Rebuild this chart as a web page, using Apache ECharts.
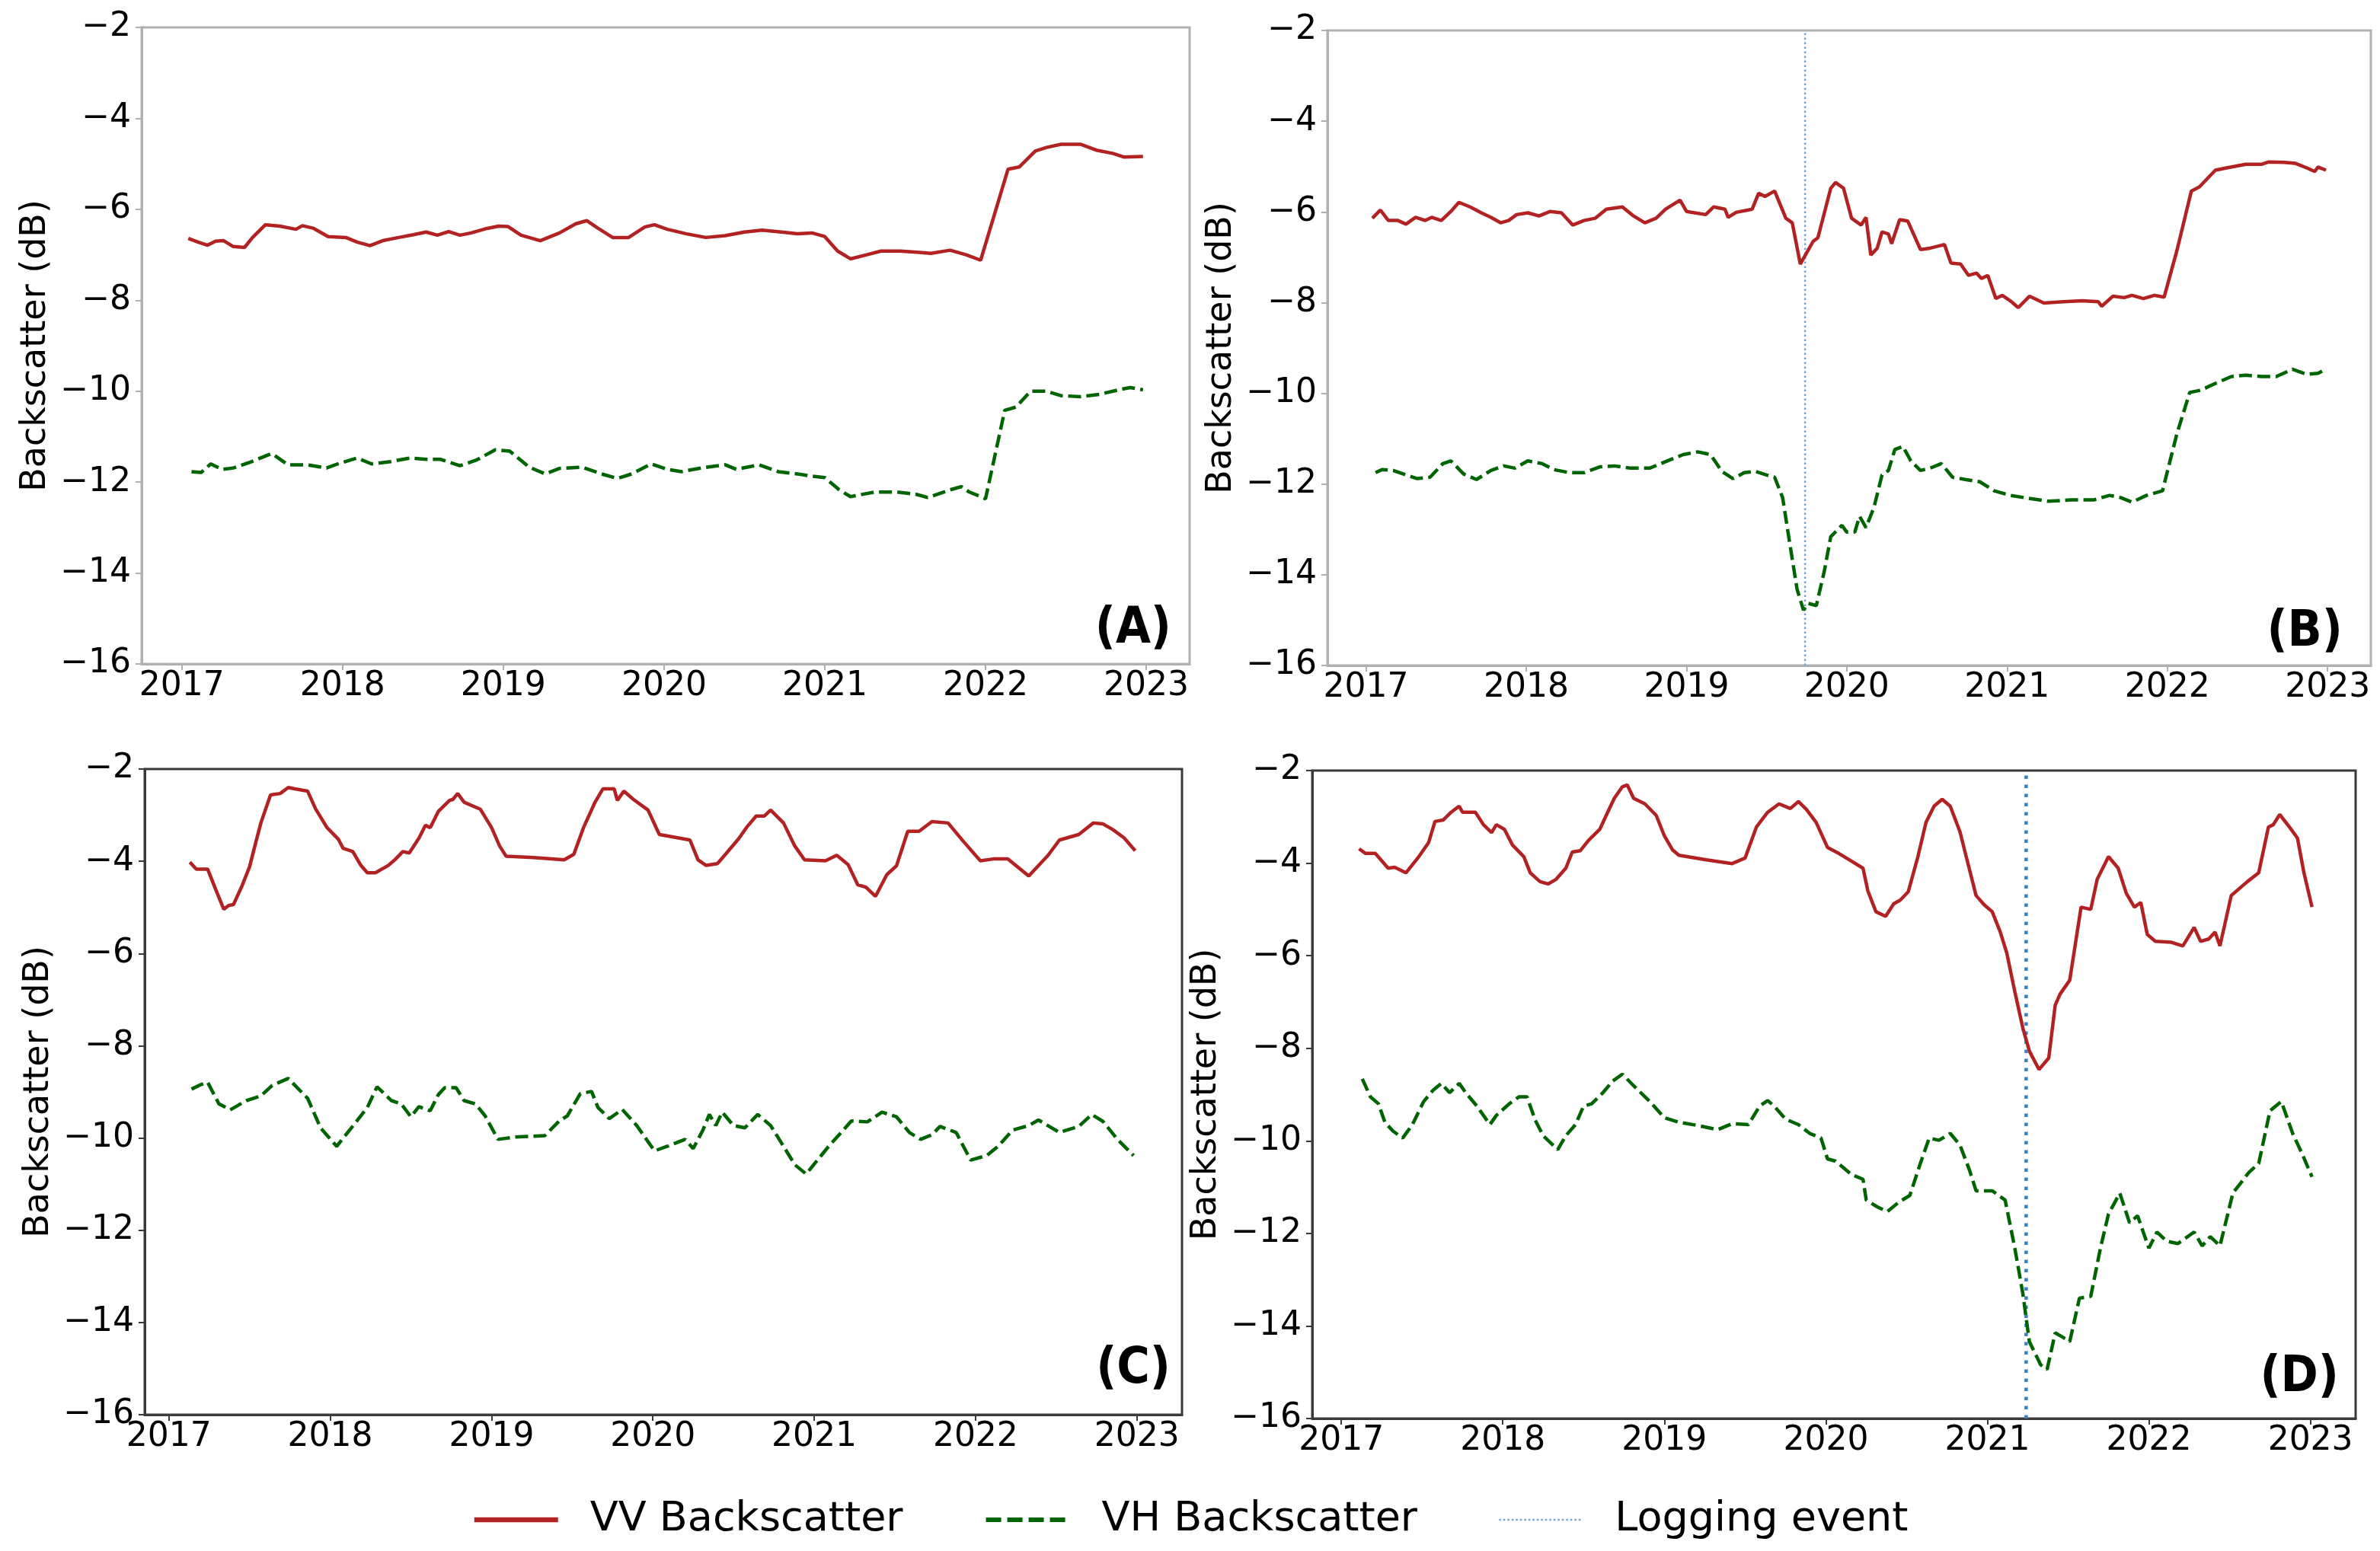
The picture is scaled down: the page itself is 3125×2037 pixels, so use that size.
<!DOCTYPE html>
<html><head><meta charset="utf-8">
<script src="https://cdn.jsdelivr.net/npm/echarts@6/dist/echarts.min.js"></script>
<style>html,body{margin:0;padding:0;background:#fff}#c{width:3125px;height:2037px}</style>
</head><body><div id="c"></div>
<script>
// ---------- data ----------
const yearTicks = [2017, 2018, 2019, 2020, 2021, 2022, 2023];
const yMin = -16, yMax = -2, yStep = 2;
const panelLabels = ['(A)', '(B)', '(C)', '(D)'];
const seriesNames = ['VV Backscatter', 'VH Backscatter', 'Logging event'];
const yAxisTitle = 'Backscatter (dB)';
const loggingB = 2019.74;
const loggingD = 2021.24;

const vvA = [[2017.04,-6.64],[2017.10,-6.72],[2017.16,-6.79],[2017.21,-6.70],[2017.26,-6.69],[2017.32,-6.82],[2017.39,-6.84],[2017.44,-6.62],[2017.52,-6.34],[2017.61,-6.37],[2017.71,-6.44],[2017.75,-6.36],[2017.82,-6.42],[2017.91,-6.60],[2018.02,-6.62],[2018.09,-6.72],[2018.17,-6.80],[2018.25,-6.69],[2018.35,-6.62],[2018.44,-6.56],[2018.52,-6.50],[2018.59,-6.57],[2018.66,-6.49],[2018.73,-6.57],[2018.80,-6.52],[2018.90,-6.42],[2018.97,-6.37],[2019.03,-6.38],[2019.11,-6.57],[2019.23,-6.69],[2019.35,-6.52],[2019.45,-6.32],[2019.52,-6.25],[2019.59,-6.42],[2019.68,-6.62],[2019.78,-6.62],[2019.88,-6.39],[2019.94,-6.34],[2020.02,-6.44],[2020.14,-6.54],[2020.26,-6.62],[2020.38,-6.58],[2020.50,-6.50],[2020.61,-6.46],[2020.73,-6.50],[2020.83,-6.54],[2020.92,-6.52],[2021.00,-6.60],[2021.08,-6.92],[2021.16,-7.09],[2021.26,-7.00],[2021.35,-6.92],[2021.47,-6.92],[2021.59,-6.95],[2021.66,-6.97],[2021.78,-6.90],[2021.88,-7.00],[2021.97,-7.12],[2022.14,-5.12],[2022.21,-5.07],[2022.31,-4.72],[2022.38,-4.64],[2022.47,-4.57],[2022.59,-4.57],[2022.69,-4.70],[2022.79,-4.77],[2022.86,-4.85],[2022.98,-4.84]];

const vhA = [[2017.06,-11.77],[2017.12,-11.79],[2017.18,-11.60],[2017.25,-11.72],[2017.32,-11.69],[2017.42,-11.57],[2017.56,-11.37],[2017.66,-11.62],[2017.78,-11.62],[2017.90,-11.69],[2017.97,-11.60],[2018.09,-11.47],[2018.18,-11.60],[2018.30,-11.55],[2018.42,-11.47],[2018.52,-11.50],[2018.61,-11.50],[2018.73,-11.64],[2018.83,-11.52],[2018.95,-11.29],[2019.04,-11.32],[2019.16,-11.67],[2019.26,-11.82],[2019.35,-11.70],[2019.49,-11.67],[2019.61,-11.82],[2019.71,-11.92],[2019.80,-11.82],[2019.92,-11.60],[2020.02,-11.72],[2020.11,-11.77],[2020.23,-11.69],[2020.38,-11.62],[2020.45,-11.72],[2020.59,-11.62],[2020.71,-11.77],[2020.83,-11.82],[2020.92,-11.87],[2021.00,-11.90],[2021.09,-12.17],[2021.16,-12.32],[2021.31,-12.22],[2021.45,-12.22],[2021.57,-12.27],[2021.64,-12.34],[2021.78,-12.17],[2021.85,-12.10],[2021.90,-12.22],[2021.97,-12.32],[2022.00,-12.37],[2022.12,-10.42],[2022.19,-10.35],[2022.28,-10.00],[2022.38,-10.00],[2022.47,-10.10],[2022.59,-10.12],[2022.71,-10.07],[2022.83,-9.97],[2022.90,-9.92],[2022.98,-9.97]];

const vvB = [[2017.04,-6.14],[2017.09,-5.96],[2017.14,-6.19],[2017.20,-6.19],[2017.25,-6.27],[2017.31,-6.12],[2017.37,-6.19],[2017.41,-6.12],[2017.47,-6.19],[2017.53,-5.99],[2017.58,-5.79],[2017.65,-5.89],[2017.72,-6.02],[2017.78,-6.12],[2017.84,-6.24],[2017.89,-6.19],[2017.94,-6.06],[2018.01,-6.02],[2018.08,-6.09],[2018.15,-5.99],[2018.22,-6.02],[2018.29,-6.29],[2018.36,-6.19],[2018.43,-6.14],[2018.50,-5.94],[2018.60,-5.89],[2018.67,-6.09],[2018.74,-6.24],[2018.81,-6.14],[2018.87,-5.94],[2018.96,-5.74],[2019.00,-5.99],[2019.12,-6.06],[2019.17,-5.89],[2019.24,-5.94],[2019.26,-6.12],[2019.31,-6.01],[2019.41,-5.94],[2019.45,-5.59],[2019.49,-5.66],[2019.55,-5.54],[2019.62,-6.14],[2019.66,-6.24],[2019.71,-7.15],[2019.79,-6.65],[2019.82,-6.57],[2019.90,-5.48],[2019.93,-5.35],[2019.98,-5.48],[2020.03,-6.14],[2020.09,-6.29],[2020.12,-6.12],[2020.15,-6.95],[2020.19,-6.80],[2020.22,-6.44],[2020.26,-6.49],[2020.28,-6.70],[2020.33,-6.17],[2020.38,-6.20],[2020.46,-6.83],[2020.52,-6.80],[2020.61,-6.72],[2020.65,-7.13],[2020.71,-7.15],[2020.76,-7.40],[2020.81,-7.35],[2020.84,-7.47],[2020.88,-7.40],[2020.93,-7.91],[2020.97,-7.84],[2021.02,-7.96],[2021.07,-8.11],[2021.14,-7.86],[2021.23,-8.01],[2021.35,-7.98],[2021.47,-7.96],[2021.57,-7.98],[2021.59,-8.08],[2021.66,-7.86],[2021.73,-7.89],[2021.78,-7.84],[2021.85,-7.91],[2021.92,-7.84],[2021.98,-7.88],[2022.06,-6.85],[2022.15,-5.54],[2022.20,-5.45],[2022.30,-5.08],[2022.37,-5.03],[2022.49,-4.95],[2022.59,-4.95],[2022.63,-4.90],[2022.73,-4.91],[2022.80,-4.93],[2022.87,-5.03],[2022.92,-5.11],[2022.94,-5.01],[2022.99,-5.08]];

const vhB = [[2017.06,-11.75],[2017.10,-11.68],[2017.17,-11.70],[2017.25,-11.80],[2017.32,-11.88],[2017.40,-11.85],[2017.48,-11.55],[2017.53,-11.49],[2017.61,-11.78],[2017.69,-11.90],[2017.78,-11.70],[2017.86,-11.60],[2017.93,-11.65],[2018.01,-11.49],[2018.10,-11.55],[2018.17,-11.68],[2018.27,-11.75],[2018.36,-11.75],[2018.46,-11.62],[2018.55,-11.60],[2018.65,-11.65],[2018.77,-11.65],[2018.86,-11.52],[2018.98,-11.35],[2019.07,-11.29],[2019.15,-11.35],[2019.22,-11.72],[2019.29,-11.88],[2019.36,-11.75],[2019.43,-11.72],[2019.50,-11.80],[2019.55,-11.85],[2019.60,-12.30],[2019.64,-13.21],[2019.69,-14.32],[2019.73,-14.78],[2019.76,-14.63],[2019.81,-14.68],[2019.86,-13.92],[2019.90,-13.16],[2019.97,-12.91],[2020.00,-13.06],[2020.05,-13.06],[2020.08,-12.71],[2020.12,-12.96],[2020.17,-12.51],[2020.22,-11.80],[2020.26,-11.70],[2020.30,-11.24],[2020.35,-11.17],[2020.40,-11.49],[2020.46,-11.70],[2020.52,-11.65],[2020.59,-11.55],[2020.66,-11.85],[2020.74,-11.90],[2020.83,-11.95],[2020.92,-12.15],[2021.02,-12.25],[2021.11,-12.30],[2021.26,-12.38],[2021.40,-12.35],[2021.54,-12.35],[2021.64,-12.25],[2021.71,-12.30],[2021.78,-12.40],[2021.87,-12.25],[2021.97,-12.15],[2022.06,-10.89],[2022.14,-9.98],[2022.21,-9.93],[2022.30,-9.78],[2022.40,-9.63],[2022.49,-9.60],[2022.59,-9.63],[2022.68,-9.63],[2022.78,-9.47],[2022.87,-9.58],[2022.94,-9.56],[2022.99,-9.47]];

const vvC = [[2017.13,-4.02],[2017.17,-4.17],[2017.24,-4.17],[2017.29,-4.61],[2017.34,-5.04],[2017.37,-4.96],[2017.40,-4.94],[2017.45,-4.56],[2017.50,-4.12],[2017.54,-3.57],[2017.57,-3.17],[2017.63,-2.56],[2017.69,-2.53],[2017.74,-2.40],[2017.78,-2.43],[2017.86,-2.48],[2017.91,-2.87],[2017.98,-3.27],[2018.05,-3.52],[2018.08,-3.72],[2018.14,-3.79],[2018.19,-4.09],[2018.23,-4.25],[2018.28,-4.25],[2018.36,-4.09],[2018.40,-3.97],[2018.45,-3.79],[2018.49,-3.82],[2018.55,-3.50],[2018.59,-3.22],[2018.62,-3.27],[2018.67,-2.92],[2018.74,-2.68],[2018.76,-2.66],[2018.79,-2.53],[2018.83,-2.72],[2018.93,-2.87],[2019.00,-3.27],[2019.05,-3.67],[2019.09,-3.89],[2019.26,-3.92],[2019.45,-3.97],[2019.51,-3.85],[2019.57,-3.27],[2019.64,-2.73],[2019.69,-2.43],[2019.76,-2.43],[2019.78,-2.68],[2019.82,-2.48],[2019.88,-2.66],[2019.97,-2.89],[2020.04,-3.42],[2020.12,-3.47],[2020.23,-3.54],[2020.28,-3.97],[2020.33,-4.09],[2020.40,-4.05],[2020.45,-3.85],[2020.53,-3.52],[2020.58,-3.27],[2020.64,-3.02],[2020.69,-3.02],[2020.73,-2.89],[2020.81,-3.17],[2020.88,-3.67],[2020.94,-3.97],[2021.07,-3.99],[2021.14,-3.87],[2021.21,-4.07],[2021.27,-4.51],[2021.32,-4.56],[2021.38,-4.76],[2021.45,-4.29],[2021.51,-4.10],[2021.58,-3.35],[2021.65,-3.35],[2021.73,-3.14],[2021.83,-3.17],[2021.92,-3.55],[2022.03,-3.99],[2022.11,-3.95],[2022.20,-3.95],[2022.33,-4.32],[2022.45,-3.87],[2022.52,-3.54],[2022.64,-3.42],[2022.73,-3.17],[2022.79,-3.19],[2022.85,-3.31],[2022.92,-3.49],[2022.99,-3.77]];

const vhC = [[2017.14,-8.94],[2017.20,-8.84],[2017.24,-8.79],[2017.31,-9.26],[2017.38,-9.39],[2017.48,-9.19],[2017.57,-9.09],[2017.64,-8.86],[2017.74,-8.71],[2017.86,-9.14],[2017.94,-9.78],[2018.04,-10.18],[2018.12,-9.83],[2018.23,-9.34],[2018.29,-8.89],[2018.38,-9.19],[2018.44,-9.26],[2018.50,-9.54],[2018.55,-9.32],[2018.62,-9.41],[2018.67,-9.06],[2018.71,-8.91],[2018.78,-8.91],[2018.83,-9.19],[2018.90,-9.26],[2018.96,-9.52],[2019.04,-10.03],[2019.14,-9.98],[2019.33,-9.95],[2019.42,-9.63],[2019.47,-9.52],[2019.55,-9.04],[2019.62,-8.99],[2019.66,-9.34],[2019.73,-9.58],[2019.81,-9.38],[2019.90,-9.73],[2020.01,-10.28],[2020.09,-10.18],[2020.20,-10.03],[2020.25,-10.23],[2020.31,-9.83],[2020.35,-9.49],[2020.39,-9.73],[2020.43,-9.44],[2020.50,-9.73],[2020.57,-9.78],[2020.65,-9.49],[2020.73,-9.73],[2020.81,-10.18],[2020.88,-10.58],[2020.95,-10.78],[2021.02,-10.48],[2021.09,-10.18],[2021.18,-9.83],[2021.23,-9.63],[2021.33,-9.65],[2021.42,-9.44],[2021.51,-9.54],[2021.59,-9.88],[2021.66,-10.03],[2021.73,-9.93],[2021.78,-9.75],[2021.88,-9.88],[2021.97,-10.48],[2022.07,-10.38],[2022.14,-10.18],[2022.23,-9.83],[2022.33,-9.73],[2022.39,-9.61],[2022.52,-9.88],[2022.64,-9.75],[2022.72,-9.49],[2022.79,-9.64],[2022.88,-10.03],[2022.98,-10.38]];

const vvD = [[2017.11,-3.69],[2017.15,-3.79],[2017.21,-3.79],[2017.24,-3.91],[2017.29,-4.11],[2017.33,-4.09],[2017.40,-4.21],[2017.48,-3.86],[2017.54,-3.56],[2017.58,-3.10],[2017.63,-3.07],[2017.68,-2.90],[2017.73,-2.77],[2017.75,-2.90],[2017.83,-2.90],[2017.88,-3.17],[2017.93,-3.34],[2017.96,-3.17],[2018.01,-3.27],[2018.06,-3.61],[2018.13,-3.86],[2018.17,-4.21],[2018.23,-4.40],[2018.28,-4.45],[2018.33,-4.35],[2018.39,-4.11],[2018.43,-3.76],[2018.48,-3.73],[2018.53,-3.51],[2018.60,-3.27],[2018.64,-2.97],[2018.69,-2.60],[2018.74,-2.35],[2018.77,-2.31],[2018.81,-2.60],[2018.88,-2.72],[2018.95,-2.97],[2019.00,-3.41],[2019.05,-3.71],[2019.09,-3.83],[2019.26,-3.93],[2019.42,-4.01],[2019.50,-3.89],[2019.57,-3.22],[2019.64,-2.90],[2019.71,-2.72],[2019.78,-2.82],[2019.83,-2.67],[2019.88,-2.84],[2019.94,-3.12],[2020.01,-3.66],[2020.08,-3.79],[2020.16,-3.96],[2020.23,-4.11],[2020.26,-4.60],[2020.31,-5.05],[2020.37,-5.15],[2020.42,-4.88],[2020.46,-4.80],[2020.51,-4.62],[2020.57,-3.86],[2020.62,-3.12],[2020.67,-2.77],[2020.72,-2.62],[2020.77,-2.77],[2020.83,-3.32],[2020.88,-4.01],[2020.93,-4.70],[2020.98,-4.90],[2021.03,-5.05],[2021.08,-5.49],[2021.12,-5.94],[2021.17,-6.78],[2021.22,-7.57],[2021.26,-8.06],[2021.32,-8.46],[2021.38,-8.21],[2021.42,-7.07],[2021.45,-6.83],[2021.51,-6.53],[2021.58,-4.95],[2021.64,-5.00],[2021.68,-4.35],[2021.75,-3.86],[2021.81,-4.11],[2021.86,-4.65],[2021.91,-4.95],[2021.95,-4.85],[2021.99,-5.54],[2022.04,-5.69],[2022.14,-5.71],[2022.21,-5.79],[2022.28,-5.39],[2022.32,-5.69],[2022.37,-5.64],[2022.41,-5.49],[2022.44,-5.79],[2022.51,-4.70],[2022.61,-4.40],[2022.68,-4.21],[2022.74,-3.22],[2022.77,-3.17],[2022.81,-2.95],[2022.87,-3.22],[2022.92,-3.46],[2022.96,-4.21],[2023.01,-4.95]];

const vhD = [[2017.13,-8.66],[2017.18,-9.05],[2017.23,-9.20],[2017.27,-9.60],[2017.32,-9.79],[2017.38,-9.94],[2017.44,-9.65],[2017.51,-9.15],[2017.57,-8.90],[2017.62,-8.76],[2017.67,-8.96],[2017.73,-8.76],[2017.77,-8.96],[2017.84,-9.25],[2017.92,-9.65],[2017.96,-9.45],[2018.04,-9.20],[2018.10,-9.05],[2018.15,-9.05],[2018.20,-9.55],[2018.25,-9.89],[2018.34,-10.19],[2018.39,-9.89],[2018.45,-9.65],[2018.50,-9.25],[2018.55,-9.20],[2018.62,-8.96],[2018.68,-8.71],[2018.74,-8.56],[2018.81,-8.81],[2018.91,-9.15],[2019.00,-9.50],[2019.09,-9.60],[2019.21,-9.67],[2019.33,-9.76],[2019.42,-9.63],[2019.52,-9.65],[2019.59,-9.25],[2019.64,-9.13],[2019.68,-9.25],[2019.75,-9.53],[2019.83,-9.65],[2019.90,-9.84],[2019.97,-9.94],[2020.01,-10.39],[2020.06,-10.44],[2020.16,-10.73],[2020.23,-10.83],[2020.25,-11.28],[2020.32,-11.43],[2020.38,-11.53],[2020.45,-11.33],[2020.52,-11.18],[2020.58,-10.54],[2020.64,-9.94],[2020.70,-9.99],[2020.77,-9.84],[2020.83,-10.09],[2020.89,-10.64],[2020.93,-11.08],[2021.03,-11.08],[2021.11,-11.28],[2021.17,-12.32],[2021.22,-13.31],[2021.26,-14.34],[2021.33,-14.84],[2021.37,-14.94],[2021.42,-14.15],[2021.47,-14.25],[2021.51,-14.34],[2021.57,-13.40],[2021.64,-13.36],[2021.70,-12.32],[2021.75,-11.58],[2021.82,-11.13],[2021.88,-11.77],[2021.93,-11.62],[2022.00,-12.32],[2022.05,-11.97],[2022.11,-12.17],[2022.18,-12.22],[2022.28,-11.97],[2022.33,-12.27],[2022.38,-12.07],[2022.44,-12.27],[2022.52,-11.13],[2022.62,-10.68],[2022.68,-10.49],[2022.75,-9.35],[2022.82,-9.15],[2022.89,-9.84],[2022.95,-10.29],[2023.01,-10.78]];

// ---------- layout / style ----------
const FONT = 'DejaVu Sans';
const RED = '#b22222', GREEN = '#006400';
const panels = [
  {left:186,  top:36,   width:1376, height:836, frame:'#b0b0b0', xmin:2016.75, xmax:2023.27, vv:vvA, vh:vhA, log:null,     lx:1538, ly:827},
  {left:1743, top:40,   width:1370, height:834, frame:'#b0b0b0', xmin:2016.76, xmax:2023.27, vv:vvB, vh:vhB, log:loggingB, lx:3076, ly:831, logStyle:{color:'#6fa3d8', width:2.5, type:[2.5,3.5]}},
  {left:190,  top:1010, width:1362, height:848, frame:'#3a3a3a', xmin:2016.85, xmax:2023.28, vv:vvC, vh:vhC, log:null,     lx:1537, ly:1799},
  {left:1723, top:1012, width:1370, height:851, frame:'#3a3a3a', xmin:2016.82, xmax:2023.28, vv:vvD, vh:vhD, log:loggingD, lx:3071, ly:1810, logStyle:{color:'#3f80c0', width:4.5, type:[4.5,7.5]}}
];

const grid = [], xAxis = [], yAxis = [], series = [], graphic = [];
panels.forEach((p, i) => {
  grid.push({left:p.left, top:p.top, width:p.width, height:p.height, show:true, borderColor:p.frame, borderWidth:3, backgroundColor:'transparent'});
  xAxis.push({
    type:'value', gridIndex:i, min:p.xmin, max:p.xmax,
    axisLine:{show:true, onZero:false, lineStyle:{color:p.frame, width:3}},
    axisTick:{show:true, length:8, lineStyle:{color:p.frame, width:2}, customValues:yearTicks},
    axisLabel:{customValues:yearTicks, formatter:v => String(Math.round(v)), fontSize:44, fontFamily:FONT, color:'#000', margin:8},
    splitLine:{show:false}
  });
  yAxis.push({
    type:'value', gridIndex:i, min:yMin, max:yMax, interval:yStep,
    name:yAxisTitle, nameLocation:'middle', nameGap:116,
    nameTextStyle:{fontSize:46, fontFamily:FONT, color:'#000'},
    axisLine:{show:true, onZero:false, lineStyle:{color:p.frame, width:3}},
    axisTick:{show:true, length:8, lineStyle:{color:p.frame, width:2}},
    axisLabel:{formatter:v => String(v).replace('-', '\u2212'), fontSize:44, fontFamily:FONT, color:'#000', margin:14},
    splitLine:{show:false}
  });
  series.push({
    name:seriesNames[0], type:'line', xAxisIndex:i, yAxisIndex:i, data:p.vv,
    symbol:'none', showSymbol:false, z:3,
    lineStyle:{color:RED, width:4.5}, itemStyle:{color:RED}
  });
  series.push({
    name:seriesNames[1], type:'line', xAxisIndex:i, yAxisIndex:i, data:p.vh,
    symbol:'none', showSymbol:false, z:3,
    lineStyle:{color:GREEN, width:4.5, type:[17,7]}, itemStyle:{color:GREEN}
  });
  if (p.log !== null) {
    series.push({
      name:seriesNames[2], type:'line', xAxisIndex:i, yAxisIndex:i,
      data:[[p.log, yMin], [p.log, yMax]],
      symbol:'none', showSymbol:false, z:2,
      lineStyle:p.logStyle, itemStyle:{color:p.logStyle.color}
    });
  }
  graphic.push({
    type:'text', x:p.lx, y:p.ly, z:10,
    style:{text:panelLabels[i], font:'bold 66px "DejaVu Sans Condensed", "DejaVu Sans"', fill:'#000', align:'right', verticalAlign:'middle'}
  });
});

const chart = echarts.init(document.getElementById('c'), null, {renderer:'canvas', width:3125, height:2037});
chart.setOption({
  animation:false,
  backgroundColor:'#ffffff',
  grid, xAxis, yAxis, series, graphic,
  legend:{
    data:[
      {name:seriesNames[0], lineStyle:{width:6.5, color:RED, type:'solid'}},
      {name:seriesNames[1], lineStyle:{width:6, color:GREEN, type:[20,8]}},
      {name:seriesNames[2], lineStyle:{width:2.5, color:'#6fa3d8', type:[2.5,3]}}
    ],
    left:'center', top:1964,
    itemWidth:110, itemHeight:20, itemGap:106,
    itemStyle:{opacity:0},
    textStyle:{fontSize:54, fontFamily:FONT, color:'#000', padding:[0,0,0,37]}
  }
});
</script></body></html>
